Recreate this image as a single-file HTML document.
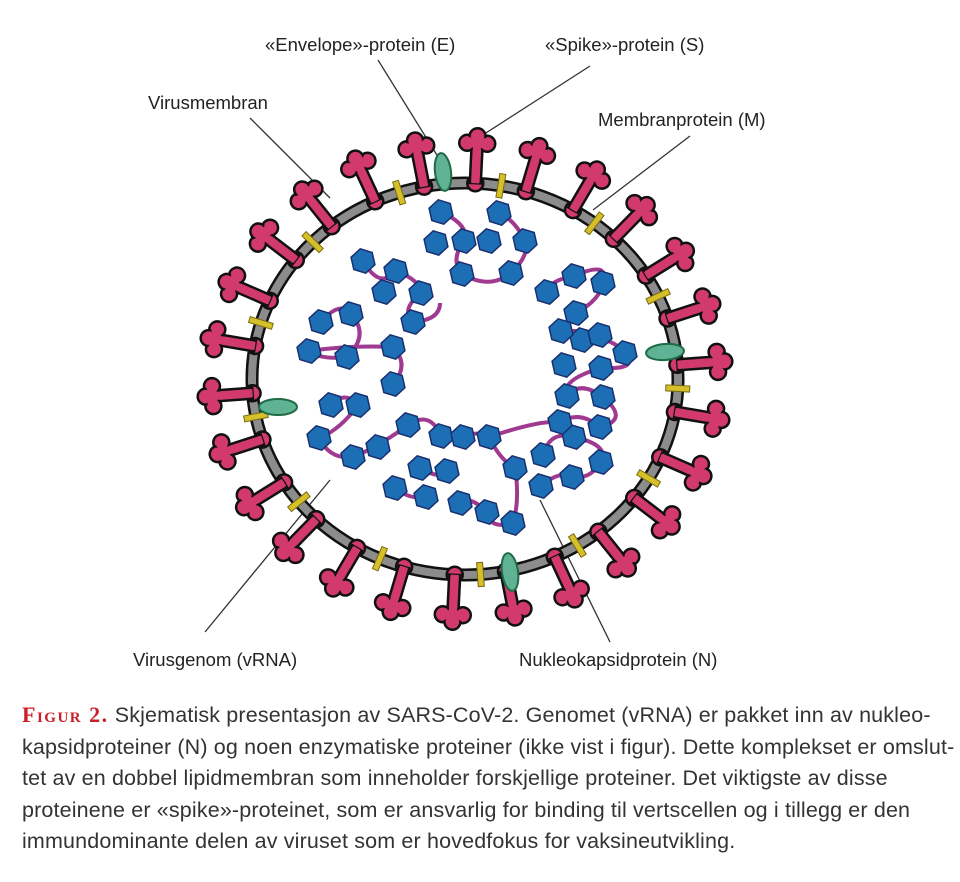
<!DOCTYPE html>
<html><head><meta charset="utf-8"><style>
body{margin:0;background:#fff;width:960px;height:882px;overflow:hidden;font-family:"Liberation Sans",sans-serif}
.cap{position:absolute;left:22px;top:699px;width:938px;font-size:21.5px;line-height:31.5px;color:#333;white-space:nowrap;letter-spacing:0.15px}
.fig{font-family:"Liberation Serif",serif;font-weight:bold;color:#c8202a;font-variant:small-caps;font-size:22px;letter-spacing:1.5px}
</style></head><body>
<svg id="s" width="960" height="700" style="position:absolute;left:0;top:0" font-family="Liberation Sans, sans-serif" font-size="18.5" fill="#222">
<g stroke="#333" stroke-width="1.3">
<line x1="378" y1="60" x2="440" y2="160"/>
<line x1="590" y1="66" x2="475" y2="140"/>
<line x1="250" y1="118" x2="330" y2="198"/>
<line x1="690" y1="136" x2="593" y2="210"/>
<line x1="205" y1="632" x2="330" y2="480"/>
<line x1="610" y1="642" x2="540" y2="500"/>
</g>
<text x="265" y="51">«Envelope»-protein (E)</text>
<text x="545" y="51">«Spike»-protein (S)</text>
<text x="148" y="109">Virusmembran</text>
<text x="598" y="126">Membranprotein (M)</text>
<text x="133" y="666">Virusgenom (vRNA)</text>
<text x="519" y="666">Nukleokapsidprotein (N)</text>
<g id="g"></g>
</svg>
<div class="cap"><span class="fig">Figur 2.</span> Skjematisk presentasjon av SARS-CoV-2. Genomet (vRNA) er pakket inn av nukleo-<br>kapsidproteiner (N) og noen enzymatiske proteiner (ikke vist i figur). Dette komplekset er omslut-<br>tet av en dobbel lipidmembran som inneholder forskjellige proteiner. Det viktigste av disse<br>proteinene er «spike»-proteinet, som er ansvarlig for binding til vertscellen og i tillegg er den<br>immundominante delen av viruset som er hovedfokus for vaksineutvikling.</div>
<script>
var cx=465,cy=379,rx=213,ry=196,h='';
h+='<ellipse cx="'+cx+'" cy="'+cy+'" rx="'+rx+'" ry="'+ry+'" fill="none" stroke="#111" stroke-width="13"/>';
h+='<ellipse cx="'+cx+'" cy="'+cy+'" rx="'+rx+'" ry="'+ry+'" fill="none" stroke="#8c8c8c" stroke-width="8"/>';
function pt(a,d){return [cx+(rx+d)*Math.sin(a),cy-(ry+d)*Math.cos(a)];}
var N=26;
for(var i=0;i<N;i++){
 var a=(i+0.2)/N*2*Math.PI,p=pt(a,0),deg=a*180/Math.PI;
 h+='<g transform="translate('+p[0]+','+p[1]+') rotate('+deg+')" fill="#d23a6e" stroke="#111" stroke-width="2.5">'+
 '<circle cx="0" cy="0" r="8"/><rect x="-5.5" y="-36" width="11" height="36"/>'+
 '<circle cx="-10" cy="-40" r="8"/><circle cx="10" cy="-40" r="8"/><circle cx="0" cy="-47" r="8"/>'+
 '<rect x="-4" y="-40" width="8" height="10" stroke="none"/><circle cx="0" cy="-41" r="7" stroke="none"/><circle cx="-10" cy="-40" r="6" stroke="none"/><circle cx="10" cy="-40" r="6" stroke="none"/><circle cx="0" cy="-47" r="6" stroke="none"/>'+
 '<rect x="-4" y="-34" width="8" height="34" stroke="none"/></g>';
 if(i%2==0){var b=a+Math.PI/N,q=pt(b,0);
 h+='<rect x="-3" y="-12" width="6" height="24" fill="#d6c02a" stroke="#7a6a10" stroke-width="1" transform="translate('+q[0]+','+q[1]+') rotate('+(b*180/Math.PI)+')"/>';}
}
[[443,172,-0.12],[665,352,1.5],[278,407,1.57],[510,572,3.0]].forEach(function(e){
 h+='<ellipse cx="'+e[0]+'" cy="'+e[1]+'" rx="8" ry="19" fill="#5fb394" stroke="#1f6b45" stroke-width="2" transform="rotate('+(e[2]*57.3)+' '+e[0]+' '+e[1]+')"/>';});
var P='#a03a90',lines=[
"M441 212 Q470 225 464 241 Q450 260 462 274 Q490 290 511 273 Q530 255 525 241 Q515 220 499 213",
"M363 261 Q380 290 396 271 Q420 280 421 293 Q400 310 413 322 Q440 320 440 303",
"M321 322 Q340 300 351 314 Q370 335 347 357 Q320 360 309 351 Q350 345 393 347 Q410 365 393 384",
"M331 405 Q345 390 358 405 Q340 430 319 438 Q330 460 353 457 Q378 447 408 425 Q430 410 441 436",
"M463 437 Q480 430 489 437 Q500 460 515 468 Q520 500 513 523 Q490 530 487 512 Q470 495 460 503",
"M420 468 Q440 480 447 471 M395 488 Q410 500 426 497",
"M541 486 Q560 470 572 477 Q590 480 601 462 Q610 445 574 437 Q550 430 543 455",
"M560 422 Q580 410 600 427 Q630 420 603 397 Q580 380 567 396 Q560 380 601 368 Q640 370 625 353 Q610 335 582 340",
"M576 313 Q600 300 603 283 Q610 260 574 276 Q550 280 547 292 M561 331 Q590 330 600 335",
"M489 437 Q540 420 560 422"];
lines.forEach(function(d){h+='<path d="'+d+'" fill="none" stroke="'+P+'" stroke-width="4"/>';});
var hx=[[441,212],[499,213],[436,243],[464,241],[489,241],[525,241],[462,274],[511,273],[363,261],[396,271],[384,292],[421,293],[413,322],[321,322],[351,314],[309,351],[347,357],[393,347],[393,384],[331,405],[358,405],[319,438],[353,457],[378,447],[408,425],[441,436],[463,437],[420,468],[447,471],[489,437],[515,468],[460,503],[487,512],[513,523],[395,488],[426,497],[541,486],[543,455],[572,477],[574,437],[601,462],[560,422],[600,427],[603,397],[567,396],[601,368],[564,365],[582,340],[625,353],[600,335],[576,313],[547,292],[574,276],[603,283],[561,331]];
hx.forEach(function(c){var s='';for(var k=0;k<6;k++){var t=k*Math.PI/3+0.3;s+=(c[0]+12.5*Math.cos(t))+','+(c[1]+12.5*Math.sin(t))+' ';}
 h+='<polygon points="'+s+'" fill="#1d6fb5" stroke="#1a2f6e" stroke-width="1.5"/>';});
document.getElementById('g').innerHTML=h;
</script>
</body></html>
